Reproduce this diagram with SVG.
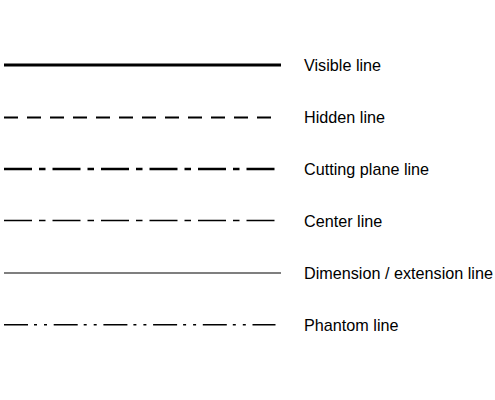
<svg xmlns="http://www.w3.org/2000/svg" width="495" height="400" viewBox="0 0 495 400">
<style>
.lbl{font-family:"Liberation Sans",Arial,sans-serif;font-size:16.2px;fill:#000}
.ln{fill:none;stroke:#000}
</style>
<rect width="495" height="400" fill="#fff"/>
<g id="connectors">
<line id="visible" class="ln" x1="4" y1="65" x2="281" y2="65" stroke-width="3.2"/>
<line id="hidden" class="ln" x1="4" y1="117.5" x2="272" y2="117.5" stroke-width="2" stroke-dasharray="14 9"/>
<line id="cutting" class="ln" x1="4" y1="169" x2="281" y2="169" stroke-width="2.5" stroke-dasharray="28 7 6.5 7"/>
<line id="center" class="ln" x1="4" y1="220.5" x2="281" y2="220.5" stroke-width="1.5" stroke-dasharray="28 7 6.5 7" stroke="#111"/>
<line id="dimension" class="ln" x1="4" y1="273" x2="281" y2="273" stroke-width="1.2" stroke="#333"/>
<line id="phantom" class="ln" x1="4" y1="324.7" x2="275.5" y2="324.7" stroke-width="1.6" stroke="#333" stroke-dasharray="24 6 3 7 3 6.7"/>
</g>
<g id="label-visible"><text class="lbl" x="304" y="71">Visible line</text></g>
<g id="label-hidden"><text class="lbl" x="304" y="123">Hidden line</text></g>
<g id="label-cutting"><text class="lbl" x="304" y="175">Cutting plane line</text></g>
<g id="label-center"><text class="lbl" x="304" y="227">Center line</text></g>
<g id="label-dimension"><text class="lbl" x="304" y="279">Dimension / extension line</text></g>
<g id="label-phantom"><text class="lbl" x="304" y="331">Phantom line</text></g>
</svg>
